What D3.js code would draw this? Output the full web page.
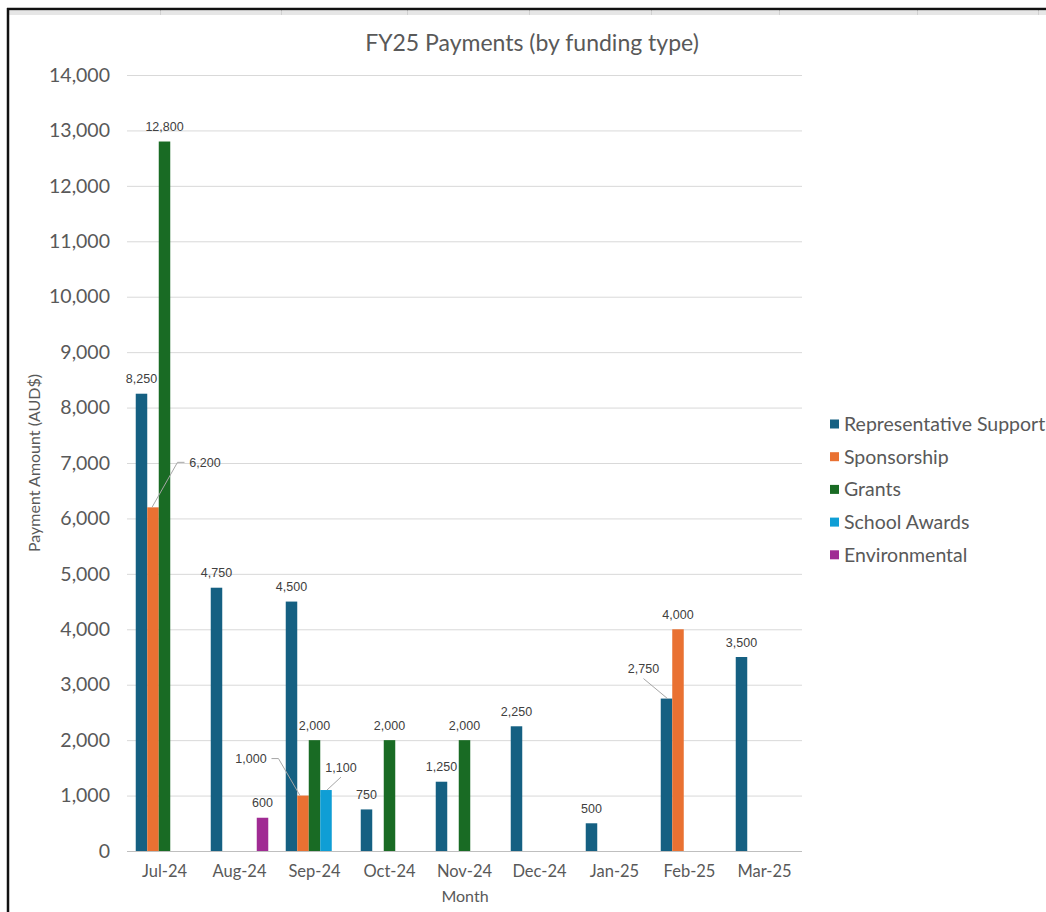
<!DOCTYPE html>
<html>
<head>
<meta charset="utf-8">
<script src="https://cdn.jsdelivr.net/npm/d3@7/dist/d3.min.js"></script>
<style>
  html, body { margin: 0; padding: 0; background: #ffffff; }
  svg { display: block; }
</style>
</head>
<body>
<svg id="chart" width="1046" height="912"></svg>
<script>
// ---------- DATA ----------
const months = ["Jul-24", "Aug-24", "Sep-24", "Oct-24", "Nov-24", "Dec-24", "Jan-25", "Feb-25", "Mar-25"];
const seriesNames = ["Representative Support", "Sponsorship", "Grants", "School Awards", "Environmental"];
const representativeSupport = [8250, 4750, 4500, 750, 1250, 2250, 500, 2750, 3500];
const sponsorship = [6200, null, 1000, null, null, null, null, 4000, null];
const grants = [12800, null, 2000, 2000, 2000, null, null, null, null];
const schoolAwards = [null, null, 1100, null, null, null, null, null, null];
const environmental = [null, 600, null, null, null, null, null, null, null];
const yTicks = [0, 1000, 2000, 3000, 4000, 5000, 6000, 7000, 8000, 9000, 10000, 11000, 12000, 13000, 14000];

const seriesValues = [representativeSupport, sponsorship, grants, schoolAwards, environmental];

// ---------- STYLE ----------
const colors = ["#156082", "#E97132", "#196B24", "#0F9ED5", "#A02B93"];
const textColor = "#595959";
const labelColor = "#404040";
// label callouts (offset of label centre from bar top centre), for labels moved with leader lines
const callouts = {
  "Sponsorship|Jul-24": { dx: 52, dy: -45, side: "left" },
  "Sponsorship|Sep-24": { dx: -52, dy: -37, side: "right" },
  "School Awards|Sep-24": { dx: 15, dy: -23, side: "bottom" },
  "Representative Support|Feb-25": { dx: -23, dy: -30, side: "bottom" }
};

const svg = d3.select("#chart");
const W = 1046, H = 912;
const plot = { left: 127, right: 802, top: 75, bottom: 851 };
const font = "Lato, 'Open Sans', sans-serif";

// ---------- FRAME (spreadsheet backdrop) ----------
svg.append("rect").attr("x", 9).attr("y", 11).attr("width", W - 9).attr("height", 4).attr("fill", "#e6e6e6");
[160, 281, 407, 529, 651, 779, 917, 1038].forEach(xx => {
  svg.append("line").attr("x1", xx + 0.5).attr("x2", xx + 0.5).attr("y1", 10).attr("y2", 15)
    .attr("stroke", "#d0d0d0").attr("stroke-width", 1);
});
svg.append("line").attr("x1", 7).attr("x2", W).attr("y1", 9).attr("y2", 9).attr("stroke", "#111").attr("stroke-width", 2.5);
svg.append("line").attr("x1", 8).attr("x2", 8).attr("y1", 8).attr("y2", H).attr("stroke", "#111").attr("stroke-width", 2.5);

// ---------- SCALES ----------
const x = d3.scaleBand().domain(months).range([plot.left, plot.right]).paddingInner(0).paddingOuter(0);
const xs = d3.scaleBand().domain(seriesNames).range([0, x.bandwidth()]).paddingInner(0).paddingOuter(0.76);
const y = d3.scaleLinear().domain([0, 14000]).range([plot.bottom, plot.top]);

// ---------- TITLE ----------
svg.append("text").attr("x", 532).attr("y", 51).attr("text-anchor", "middle")
  .attr("font-family", font).attr("font-size", 23).attr("fill", textColor)
  .text("FY25 Payments (by funding type)");

// ---------- GRIDLINES + Y AXIS ----------
const yAxis = d3.axisLeft(y).tickValues(yTicks).tickSize(-(plot.right - plot.left)).tickPadding(17)
  .tickFormat(d3.format(","));
const yG = svg.append("g").attr("transform", `translate(${plot.left},0)`).call(yAxis);
yG.select(".domain").remove();
yG.selectAll(".tick line").attr("stroke", d => d === 0 ? "#bfbfbf" : "#d9d9d9").attr("stroke-width", 1);
yG.selectAll(".tick text").attr("font-family", font).attr("font-size", 19.5)
  .attr("fill", textColor);

// ---------- X AXIS ----------
const xAxis = d3.axisBottom(x).tickSize(0).tickPadding(14);
const xG = svg.append("g").attr("transform", `translate(0,${plot.bottom})`).call(xAxis);
xG.select(".domain").remove();
xG.selectAll(".tick text").attr("font-family", font).attr("font-size", 16.5)
  .attr("fill", textColor);

// axis titles
svg.append("text").attr("x", 465).attr("y", 902).attr("text-anchor", "middle")
  .attr("font-family", font).attr("font-size", 16).attr("fill", textColor)
  .text("Month");
svg.append("text").attr("transform", "translate(40,463) rotate(-90)").attr("text-anchor", "middle")
  .attr("font-family", font).attr("font-size", 16).attr("fill", textColor)
  .text("Payment Amount (AUD$)");

// ---------- BARS ----------
const barData = [];
seriesNames.forEach((s, si) => {
  seriesValues[si].forEach((v, mi) => {
    if (v != null) barData.push({ series: s, si, month: months[mi], value: v });
  });
});

svg.append("g").selectAll("rect").data(barData).join("rect")
  .attr("x", d => x(d.month) + xs(d.series))
  .attr("y", d => y(d.value))
  .attr("width", xs.bandwidth())
  .attr("height", d => y(0) - y(d.value))
  .attr("fill", d => colors[d.si]);

// ---------- DATA LABELS ----------
const fmt = d3.format(",");
const labelG = svg.append("g");
barData.forEach(d => {
  const cx = x(d.month) + xs(d.series) + xs.bandwidth() / 2;
  const top = y(d.value);
  const key = d.series + "|" + d.month;
  const co = callouts[key];
  let lx = cx, lyCenter = top - 15;
  if (co) {
    lx = cx + co.dx; lyCenter = top + co.dy;
    const tw = fmt(d.value).length * 6.6;
    let pts;
    if (co.side === "left") {
      const ex = lx - tw / 2 - 4;
      pts = [[ex, lyCenter], [ex - 7, lyCenter], [cx - 1, top]];
    } else if (co.side === "right") {
      const ex = lx + tw / 2 + 4;
      pts = [[ex, lyCenter], [ex + 7, lyCenter], [cx - 3, top]];
    } else {
      pts = [[lx, lyCenter + 10], [cx + 1, top]];
    }
    labelG.append("path").attr("d", d3.line()(pts)).attr("fill", "none")
      .attr("stroke", "#a6a6a6").attr("stroke-width", 1);
  }
  labelG.append("text").attr("x", lx).attr("y", lyCenter + 4.5).attr("text-anchor", "middle")
    .attr("font-family", "'Liberation Sans', Arial, sans-serif").attr("font-size", 12.5)
    .attr("fill", labelColor).text(fmt(d.value));
});

// ---------- LEGEND ----------
const legend = svg.append("g");
seriesNames.forEach((s, i) => {
  const cy = 424 + i * 32.7;
  legend.append("rect").attr("x", 830).attr("y", cy - 4.5).attr("width", 9).attr("height", 9).attr("fill", colors[i]);
  legend.append("text").attr("x", 844).attr("y", cy).attr("dy", "0.35em")
    .attr("font-family", font).attr("font-size", 19.5).attr("fill", textColor).text(s);
});
</script>
</body>
</html>
